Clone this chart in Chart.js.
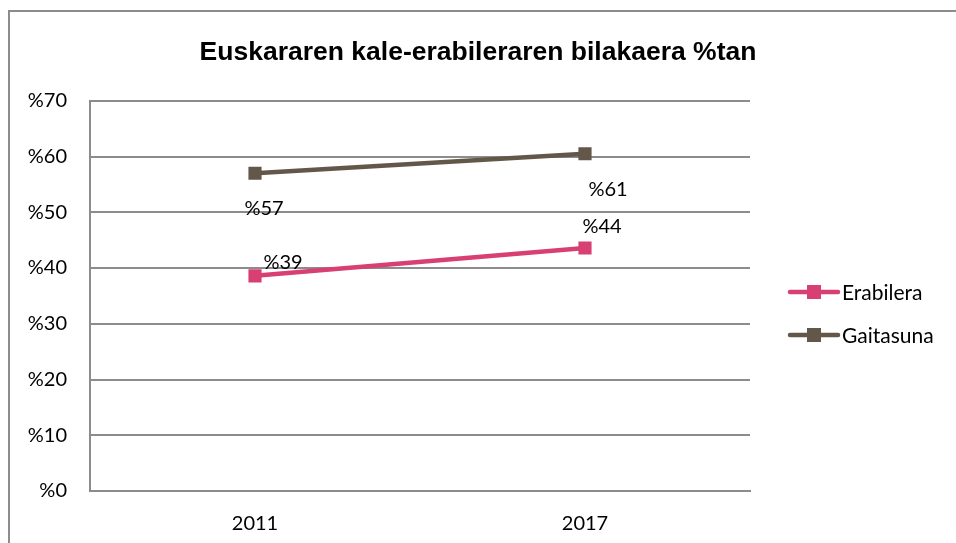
<!DOCTYPE html>
<html>
<head>
<meta charset="utf-8">
<script src="https://cdn.jsdelivr.net/npm/chart.js@4/dist/chart.umd.min.js"></script>
<style>
  html, body { margin: 0; padding: 0; background: #fff; }
  #wrap { position: relative; width: 956px; height: 543px; overflow: hidden; }
  #frame { position: absolute; left: 8px; top: 10px; width: 1000px; height: 600px; border: 2px solid #8c8c8c; box-sizing: border-box; pointer-events: none; }
  canvas { position: absolute; left: 0; top: 0; }
</style>
</head>
<body>
<div id="wrap">
  <canvas id="c" width="956" height="543"></canvas>
  <div id="frame"></div>
</div>
<script>
'use strict';

/* datos */
const years = ['2011', '2017'];
const erabilera = [38.6, 43.6];
const gaitasuna = [57.0, 60.5];
const seriesNames = ['Erabilera', 'Gaitasuna'];
const seriesColors = ['#d83f73', '#63574a'];
const yTicks = [0, 10, 20, 30, 40, 50, 60, 70];

const FONT = 'Lato, Calibri, "Open Sans", sans-serif';

/* etiquetas de valor, desplazadas como en el original (dx, dy del centro del texto) */
const labelShift = [
  [[28, -13], [17, -21]],
  [[9, 35], [23, 36]],
];
const valueLabels = {
  id: 'valueLabels',
  afterDatasetsDraw(chart) {
    const ctx = chart.ctx;
    ctx.save();
    ctx.font = '20px ' + FONT;
    ctx.fillStyle = '#000';
    ctx.textAlign = 'center';
    ctx.textBaseline = 'middle';
    chart.data.datasets.forEach((ds, di) => {
      chart.getDatasetMeta(di).data.forEach((pt, i) => {
        const [dx, dy] = labelShift[di][i];
        ctx.fillText('%' + Math.round(ds.data[i]), pt.x + dx, pt.y + dy);
      });
    });
    ctx.restore();
  },
};

/* leyenda lateral: línea + cuadrado, como Excel */
const sideLegend = {
  id: 'sideLegend',
  afterDraw(chart) {
    const ctx = chart.ctx;
    const x0 = 790, x1 = 838, ys = [292, 335];
    ctx.save();
    chart.data.datasets.forEach((ds, i) => {
      const y = ys[i];
      ctx.strokeStyle = ds.borderColor;
      ctx.lineWidth = 4.5;
      ctx.lineCap = 'round';
      ctx.beginPath(); ctx.moveTo(x0, y); ctx.lineTo(x1, y); ctx.stroke();
      ctx.fillStyle = ds.borderColor;
      ctx.fillRect((x0 + x1) / 2 - 7, y - 7, 14, 14);
      ctx.fillStyle = '#000';
      ctx.font = '21px ' + FONT;
      ctx.textAlign = 'left';
      ctx.textBaseline = 'middle';
      ctx.fillText(ds.label, x1 + 4, y + 1);
    });
    ctx.restore();
  },
};

const mkSet = (i, data) => ({
  label: seriesNames[i], data,
  borderColor: seriesColors[i], backgroundColor: seriesColors[i],
  borderWidth: 4.5, pointStyle: 'rect', pointRadius: 9.3, pointHoverRadius: 9.3,
  pointBorderWidth: 0, tension: 0,
});

new Chart(document.getElementById('c'), {
  type: 'line',
  data: { labels: years, datasets: [mkSet(0, erabilera), mkSet(1, gaitasuna)] },
  options: {
    responsive: false, animation: false,
    layout: { padding: 0 },
    plugins: {
      legend: { display: false },
      tooltip: { enabled: false },
      title: {
        display: true, text: 'Euskararen kale-erabileraren bilakaera %tan', color: '#000',
        font: { family: '"Liberation Sans", Arial, sans-serif', size: 26.5, weight: 'bold', lineHeight: 1.2 },
        padding: { top: 37, bottom: 32 },
      },
    },
    scales: {
      x: {
        type: 'category', offset: true,
        afterFit: s => { s.height = 52; },
        grid: { display: false, drawTicks: false },
        border: { display: true, color: '#8c8c8c', width: 2 },
        ticks: { color: '#000', padding: 21, font: { family: FONT, size: 20 } },
      },
      y: {
        min: 0, max: 70,
        afterFit: s => { s.width = 90; },
        afterBuildTicks: s => { s.ticks = yTicks.map(v => ({ value: v })); },
        grid: { color: '#8c8c8c', lineWidth: 2, drawTicks: false },
        border: { display: true, color: '#8c8c8c', width: 2 },
        ticks: { color: '#000', padding: 23, font: { family: FONT, size: 20 }, callback: v => '%' + v },
      },
      /* eje vacío a la derecha: reserva el hueco de la leyenda */
      side: {
        type: 'linear', position: 'right',
        afterFit: s => { s.width = 206; },
        grid: { display: false, drawTicks: false },
        border: { display: false },
        ticks: { display: false },
      },
    },
  },
  plugins: [valueLabels, sideLegend],
});
</script>
</body>
</html>
